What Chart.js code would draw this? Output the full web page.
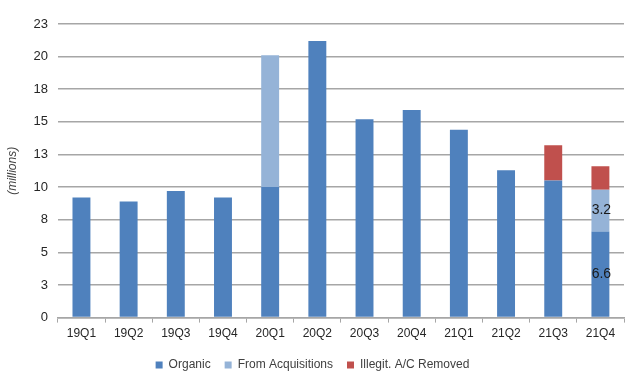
<!DOCTYPE html>
<html>
<head>
<meta charset="utf-8">
<script src="https://cdn.jsdelivr.net/npm/chart.js@4.4.1/dist/chart.umd.min.js"></script>
<style>
    html, body { margin: 0; padding: 0; background: #fff; }
    #wrap { width: 640px; height: 387px; }
</style>
</head>
<body>
<div id="wrap"><canvas id="mainChart"></canvas></div>
<script>
// Chart data (millions)
const quarters = ['19Q1', '19Q2', '19Q3', '19Q4', '20Q1', '20Q2', '20Q3', '20Q4', '21Q1', '21Q2', '21Q3', '21Q4'];
const organic = [9.2, 8.9, 9.7, 9.2, 10.0, 21.2, 15.2, 15.9, 14.4, 11.3, 10.5, 6.6];
const fromAcquisitions = [0, 0, 0, 0, 10.1, 0, 0, 0, 0, 0, 0, 3.2];
const illegitRemoved = [0, 0, 0, 0, 0, 0, 0, 0, 0, 0, 2.7, 1.8];
const yTickLabels = ['0', '3', '5', '8', '10', '13', '15', '18', '20', '23'];
const labelledQuarter = '21Q4';

const fontFamily = "'Liberation Sans', Arial, sans-serif";

// draws the value labels inside the 21Q4 segments
const segmentLabels = {
    id: 'segmentLabels',
    afterDatasetsDraw(chart) {
        const ctx = chart.ctx;
        const idx = quarters.indexOf(labelledQuarter);
        ctx.save();
        ctx.font = '14px ' + fontFamily;
        ctx.fillStyle = '#1a1a1a';
        ctx.textAlign = 'center';
        ctx.textBaseline = 'middle';
        [0, 1].forEach(function (di) {
            const bar = chart.getDatasetMeta(di).data[idx];
            const value = chart.data.datasets[di].data[idx];
            if (!bar || !value) return;
            ctx.fillText(value.toFixed(1), bar.x + 1, (bar.y + bar.base) / 2);
        });
        ctx.restore();
    }
};

const ctx = document.getElementById('mainChart').getContext('2d');
new Chart(ctx, {
    type: 'bar',
    data: {
        labels: quarters,
        datasets: [
            { label: 'Organic', data: organic, backgroundColor: '#4f81bd' },
            { label: 'From Acquisitions', data: fromAcquisitions, backgroundColor: '#95b3d7' },
            { label: 'Illegit. A/C Removed', data: illegitRemoved, backgroundColor: '#c0504d' }
        ]
    },
    options: {
        responsive: true,
        maintainAspectRatio: false,
        animation: false,
        layout: { padding: { top: 24, right: 16, left: 1, bottom: 6 } },
        datasets: {
            bar: { categoryPercentage: 1.0, barPercentage: 0.38 }
        },
        plugins: {
            tooltip: { enabled: false },
            legend: {
                position: 'bottom',
                labels: {
                    boxWidth: 7,
                    boxHeight: 7,
                    padding: 14,
                    color: '#404040',
                    font: { family: fontFamily, size: 12 }
                }
            }
        },
        scales: {
            x: {
                stacked: true,
                grid: {
                    drawOnChartArea: false,
                    drawTicks: true,
                    tickLength: 5,
                    color: '#a6a6a6'
                },
                border: { color: '#a6a6a6', width: 1.5 },
                ticks: {
                    color: '#262626',
                    padding: 4,
                    maxRotation: 0,
                    font: { family: fontFamily, size: 12 }
                }
            },
            y: {
                stacked: true,
                min: 0,
                max: 22.5,
                grid: {
                    color: '#a6a6a6',
                    lineWidth: 1.5,
                    drawTicks: false
                },
                border: { display: false },
                title: {
                    display: true,
                    text: '(millions)',
                    color: '#404040',
                    font: { family: fontFamily, size: 12, style: 'italic' }
                },
                ticks: {
                    stepSize: 2.5,
                    padding: 10,
                    color: '#262626',
                    font: { family: fontFamily, size: 13 },
                    callback: function (value, index) {
                        return yTickLabels[index];
                    }
                }
            }
        }
    },
    plugins: [segmentLabels]
});
</script>
</body>
</html>
